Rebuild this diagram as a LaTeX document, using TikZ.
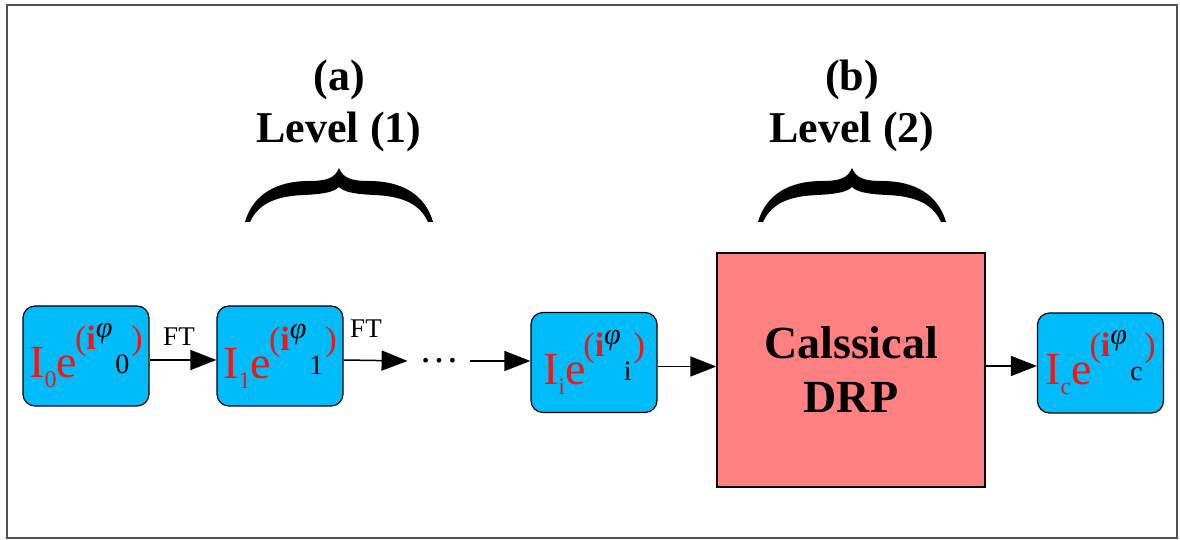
\documentclass[tikz,border=0pt]{standalone}
\usepackage{fontspec}
\setmainfont{Liberation Serif}
\usetikzlibrary{positioning}
\usetikzlibrary{arrows.meta}
\definecolor{phaseblue}{RGB}{0,188,250}
\definecolor{drpred}{RGB}{255,128,128}
\definecolor{phasered}{RGB}{245,20,20}
\definecolor{framegray}{RGB}{80,80,80}
% amplitude and phase, #1 index of I, #2 index of phi
\newcommand{\ampphase}[2]{%
	\textcolor{phasered}{\fontsize{23}{23}\selectfont I\raisebox{-5pt}{\fontsize{12}{12}\selectfont #1}e}%
	\hspace{-1pt}\raisebox{14pt}{\fontsize{17}{17}\selectfont\textcolor{phasered}{(\textbf{i}}%
	\raisebox{6pt}{\fontsize{15}{15}\selectfont\textit{φ}}\hspace{1.5pt}%
	\raisebox{-12pt}{\fontsize{14}{14}\selectfont #2}\hspace{1pt}\textcolor{phasered}{)}}}
\tikzset{
	>=Triangle,
	phasebox/.style={
		rectangle,
		rounded corners=6pt,
		draw=black, line width=0.6pt,
		fill=phaseblue,
		minimum width=63pt,
		minimum height=50pt,
		inner sep=0pt},
	drpbox/.style={
		rectangle,
		draw=black, line width=0.6pt,
		fill=drpred,
		minimum width=134pt,
		minimum height=117pt,
		align=center,
		font=\fontsize{23}{27}\selectfont\bfseries},
	flow/.style={draw, line width=0.75pt, -{Triangle[length=13pt,width=10pt]}},
	ftlabel/.style={font=\fontsize{13.5}{13.5}\selectfont, inner sep=0pt},
	levellabel/.style={align=center, inner sep=0pt, font=\fontsize{22}{26}\selectfont\bfseries},
	levelbrace/.pic={
		\fill (0,0) .. controls (-4,-10) and (-12,-13) .. (-30,-13)
			.. controls (-62,-13) and (-86,-26) .. (-94,-54) -- (-89,-54)
			.. controls (-80,-34) and (-60,-28) .. (-35,-27)
			.. controls (-15,-26) and (-5,-24) .. (0,-19)
			.. controls (5,-24) and (15,-26) .. (35,-27)
			.. controls (60,-28) and (80,-34) .. (89,-54) -- (94,-54)
			.. controls (86,-26) and (62,-13) .. (30,-13)
			.. controls (12,-13) and (4,-10) .. (0,0) -- cycle;
	},
}
\begin{document}
\begin{tikzpicture}
		[x=0.5pt, y=0.5pt, font=\fontsize{13.5}{13.5}\selectfont]
		\useasboundingbox (0,0) rectangle (1180,540);
		\draw[framegray, line width=0.8pt] (7,2) rectangle (1177,535);
		% chain of phase images
		\node[phasebox] (box0) at (86,184)      {\ampphase{0}{0}};
		\node[phasebox] (box1) at (280,184)     {\ampphase{1}{1}};
		\node[inner sep=0pt, minimum width=31pt, font=\fontsize{20}{20}\selectfont] (dots) at (439,179) {…};
		\node[phasebox] (boxi) at (594,177.5)   {\ampphase{i}{i}};
		\node[drpbox] (drp) at (851,170)        {Calssical\\DRP};
		\node[phasebox] (boxc) at (1100.5,177)  {\ampphase{c}{c}};
		\draw[flow] ([yshift=-2pt]box0.east) -- ([yshift=-2pt]box1.west) node[ftlabel, midway, above=7pt, xshift=-2pt] {FT};
		\draw[flow] ([yshift=-2pt]box1.east) -- (dots.west) node[ftlabel, pos=0.35, above=11pt] {FT};
		\draw[flow] (dots.east) -- (dots.east -| boxi.west);
		\draw[flow] ([yshift=-2pt]boxi.east) -- ([yshift=-2pt]boxi.east -| drp.west);
		\draw[flow] ([yshift=-1.5pt]boxc.west -| drp.east) -- ([yshift=-1.5pt]boxc.west);
		% levels
		\coordinate (tipA) at (339,372);
		\coordinate (tipB) at (852,372);
		\pic at (tipA) {levelbrace};
		\pic at (tipB) {levelbrace};
		\node[levellabel, above=8pt of tipA] (levA) {(a)\\Level (1)};
		\node[levellabel, above=8pt of tipB] (levB) {(b)\\Level (2)};
\end{tikzpicture}
\end{document}
